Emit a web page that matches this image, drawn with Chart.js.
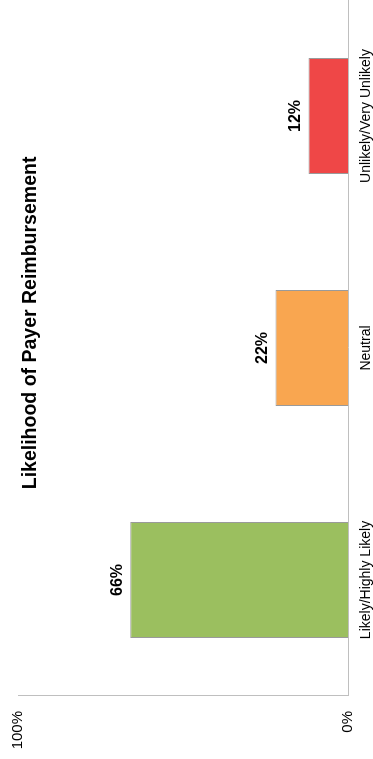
<!DOCTYPE html>
<html>
<head>
<meta charset="utf-8">
<script src="https://cdn.jsdelivr.net/npm/chart.js@4"></script>
<style>
    html, body { margin: 0; padding: 0; background: #fff; overflow: hidden; }
    #wrap {
        position: absolute; left: 0; top: 0;
        width: 759px; height: 373px;
        transform-origin: 0 0;
        transform: translate(0, 759px) rotate(-90deg);
    }
</style>
</head>
<body>
<div id="wrap"><canvas id="chart" width="759" height="373"></canvas></div>
<script>
const categories = ['Likely/Highly Likely', 'Neutral', 'Unlikely/Very Unlikely'];
const shares = [66, 22, 12];
const valueTicks = [0, 100];
const chartTitle = 'Likelihood of Payer Reimbursement';

const FONT = "'Liberation Sans', Arial, sans-serif";

// Excel-style overlay: title sits inside the plot, values above each bar
const overlayText = {
    id: 'overlayText',
    afterDatasetsDraw(chart) {
        const { ctx, chartArea } = chart;
        ctx.save();
        ctx.fillStyle = '#000';
        ctx.textAlign = 'center';
        ctx.textBaseline = 'alphabetic';

        ctx.font = 'bold 16px ' + FONT;
        chart.getDatasetMeta(0).data.forEach((bar, i) => {
            ctx.fillText(shares[i] + '%', bar.x, bar.y - 8);
        });

        ctx.font = 'bold 19.5px ' + FONT;
        ctx.fillText(chartTitle, chartArea.left + chartArea.width * 0.536, 35.5);
        ctx.restore();
    }
};

new Chart(document.getElementById('chart').getContext('2d'), {
    type: 'bar',
    data: {
        labels: categories,
        datasets: [{
            data: shares,
            backgroundColor: ['#9BBF5F', '#F9A650', '#EF4747'],
            borderColor: '#9a9a9a',
            borderWidth: 1,
            borderSkipped: 'bottom',
            barPercentage: 0.5,
            categoryPercentage: 1.0
        }]
    },
    options: {
        responsive: false,
        animation: false,
        devicePixelRatio: 1,
        layout: { padding: { left: 9, top: 18, right: 0, bottom: 0 } },
        plugins: { legend: { display: false }, tooltip: { enabled: false }, title: { display: false } },
        scales: {
            x: {
                afterFit: (axis) => { axis.height = 25; },
                grid: { display: false, drawTicks: false },
                border: { display: true, color: '#BFBFBF', width: 1 },
                ticks: { color: '#000', font: { family: FONT, size: 14 }, padding: 10, maxRotation: 0 }
            },
            y: {
                min: valueTicks[0],
                max: valueTicks[valueTicks.length - 1],
                afterBuildTicks: (axis) => { axis.ticks = valueTicks.map(v => ({ value: v })); },
                afterFit: (axis) => {
                    axis.width = 54;
                    axis.paddingTop = 0;
                    axis.paddingBottom = 0;
                },
                grid: { display: false, drawTicks: false },
                border: { display: true, color: '#BFBFBF', width: 1 },
                ticks: { color: '#000', font: { family: FONT, size: 15 }, padding: 15, callback: v => v + '%' }
            }
        }
    },
    plugins: [overlayText]
});
</script>
</body>
</html>
